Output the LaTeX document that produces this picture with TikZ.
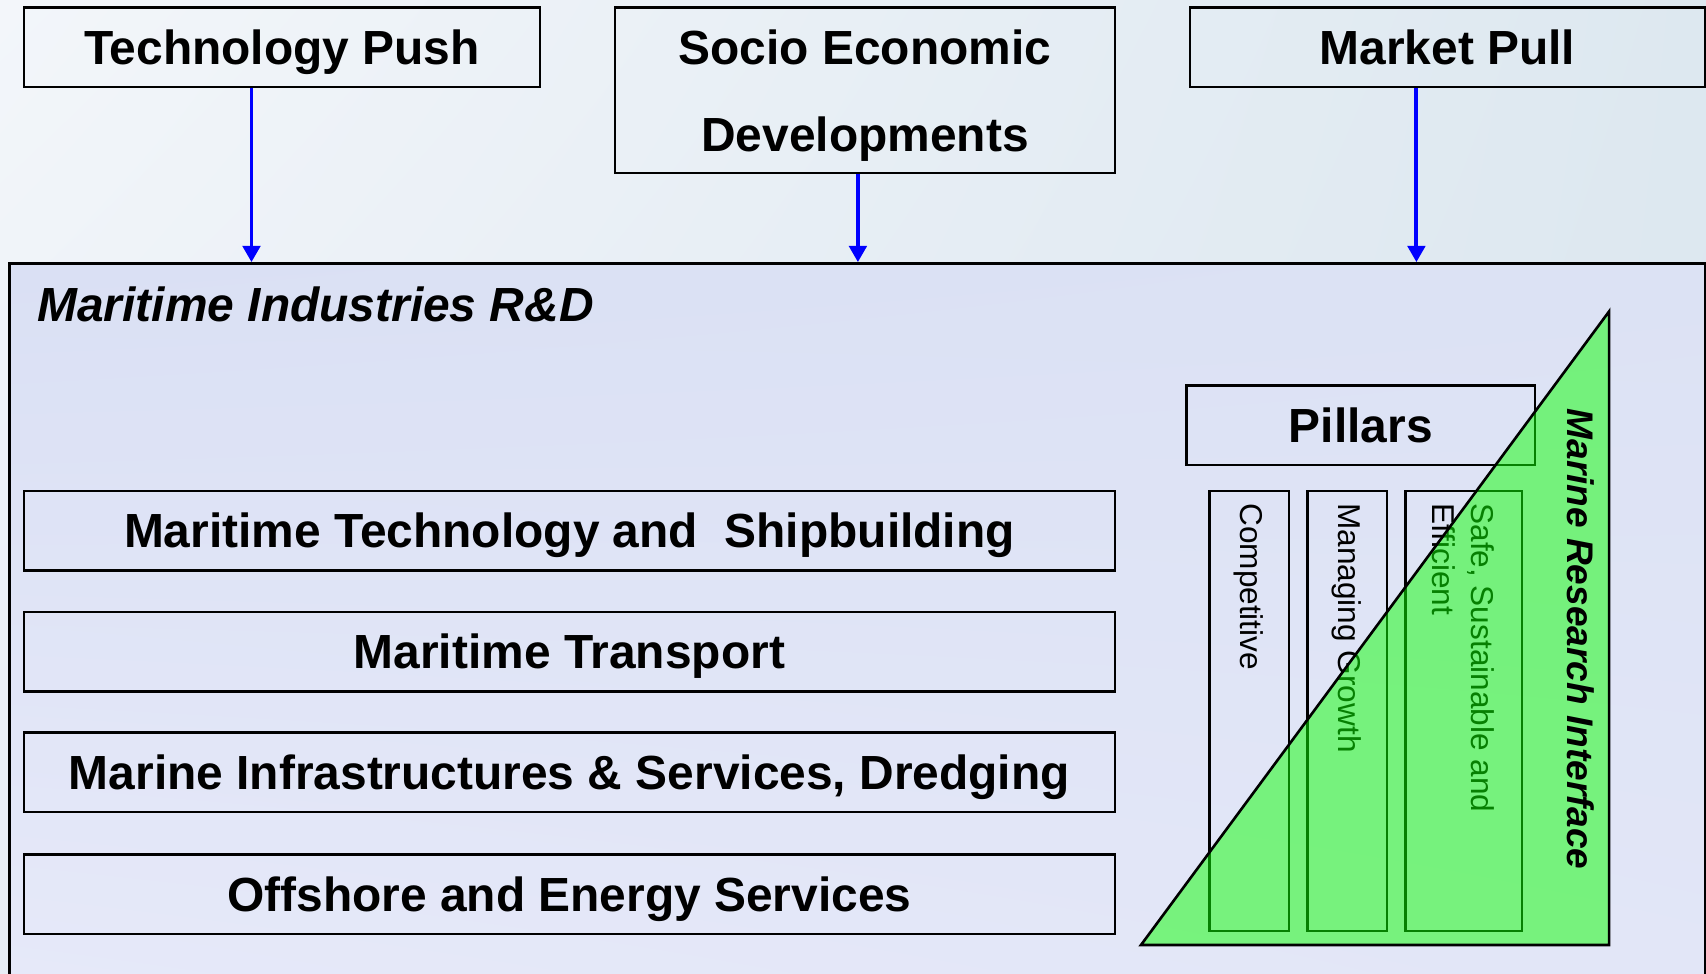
\documentclass[tikz,border=0pt]{standalone}
\usepackage{fontspec}
\setmainfont{Liberation Sans}
\usetikzlibrary{arrows.meta,shadings}
\definecolor{bgA}{HTML}{F3F6FA}
\definecolor{bgB}{HTML}{DDE8F0}
\definecolor{bgC}{HTML}{E8EEF6}
\definecolor{bgD}{HTML}{DCE6EF}
\definecolor{rdA}{HTML}{DAE0F4}
\definecolor{rdB}{HTML}{DCE2F4}
\definecolor{rdC}{HTML}{E6E9F9}
\definecolor{rdD}{HTML}{E2E6F7}
\definecolor{trig}{rgb}{0.05,1,0.02}
\begin{document}
\begin{tikzpicture}[x=0.5pt,y=-0.5pt,
  box/.style={draw=black, line width=1.2pt, rectangle, inner sep=0, minimum height=36.5pt},
  ttl/.style={font=\fontsize{22}{40}\selectfont\bfseries, inner sep=0, anchor=base, align=center},
  arr/.style={draw=blue, line width=1.8pt, -{Triangle[length=7.5pt,width=8pt]}},
  ptxt/.style={font=\fontsize{14.5}{18}\selectfont, rotate=-90, anchor=west, inner sep=0, align=left}]
\useasboundingbox (0,0) rectangle (1567,894);
\clip (0,0) rectangle (1567,894);
\shade[upper left=bgA, upper right=bgB, lower left=bgC, lower right=bgD] (0,0) rectangle (1567,894);
% top boxes
\node[box, minimum width=237pt] (tp) at (259,43.5) {};
\node[box, minimum width=229.5pt, minimum height=76pt] (se) at (794.5,83) {};
\node[box, minimum width=236.5pt] (mp) at (1329.5,43.5) {};
\node[ttl] (tpt) at (259,59) {Technology Push};
\node[ttl, anchor=base] (set) at (794.5,59) {Socio Economic};
\node[ttl, anchor=base] (set2) at (794.5,139) {Developments};
\node[ttl] (mpt) at (1329.5,59) {Market Pull};
% main box
\node[box, minimum width=778.5pt, minimum height=331.5pt, shade, upper left=rdA, upper right=rdB, lower left=rdC, lower right=rdD] (rd) at (787.5,573.5) {};
\node[font=\fontsize{22}{26}\selectfont\bfseries\itshape, inner sep=0, anchor=base west] (rdt) at (34,295) {Maritime Industries R\&D};
% arrows
\draw[arr] (tp.south -| 231,0) -- (rd.north -| 231,0);
\draw[arr] (se.south -| 788,0) -- (rd.north -| 788,0);
\draw[arr] (mp.south -| 1301,0) -- (rd.north -| 1301,0);
% sector boxes
\node[box, minimum width=501pt] (b1) at (523,487.5) {};
\node[box, minimum width=501pt] (b2) at (523,598.5) {};
\node[box, minimum width=501pt] (b3) at (523,709.5) {};
\node[box, minimum width=501pt] (b4) at (523,821.5) {};
\node[ttl] (b1t) at (523,503) {Maritime Technology and\ \ Shipbuilding};
\node[ttl] (b2t) at (523,614) {Maritime Transport};
\node[ttl] (b3t) at (523,725) {Marine Infrastructures \& Services, Dredging};
\node[ttl] (b4t) at (523,837) {Offshore and Energy Services};
% pillars
\node[box, minimum width=160pt] (pil) at (1250,390.5) {};
\node[ttl] (pilt) at (1250,406) {Pillars};
\node[box, minimum width=36.5pt, minimum height=202pt] (c1) at (1147.5,653) {};
\node[box, minimum width=36.5pt, minimum height=202pt] (c2) at (1237.5,653) {};
\node[box, minimum width=53.5pt, minimum height=202pt] (c3) at (1344.5,653) {};
\node[ptxt] (c1t) at (1147,462) {Competitive};
\node[ptxt] (c2t) at (1237,462) {Managing Growth};
\node[ptxt] (c3t) at (1344,462) {Safe, Sustainable and\\Efficient};
% triangle
\fill[trig, fill opacity=0.5] (1048,868) -- (1478,286) -- (1478,868) -- cycle;
\draw[black, line width=1.2pt, line join=miter] (1048,868) -- (1478,286) -- (1478,868) -- cycle;
\node[font=\fontsize{17}{20}\selectfont\bfseries\itshape, rotate=-90, anchor=west, inner sep=0] (mri) at (1452,375) {Marine Research Interface};
\end{tikzpicture}
\end{document}
